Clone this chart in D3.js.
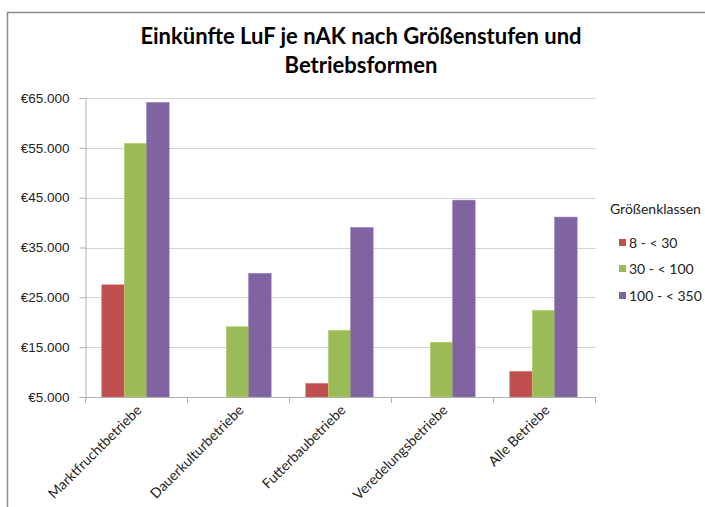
<!DOCTYPE html>
<html>
<head>
<meta charset="utf-8">
<script src="https://cdn.jsdelivr.net/npm/d3@7"></script>
<style>
  body { margin: 0; background: #fff; }
  svg { font-family: Lato, "Open Sans", sans-serif; }
</style>
</head>
<body>
<div id="chart"></div>
<script>
// Data
var categories = ['Marktfruchtbetriebe', 'Dauerkulturbetriebe', 'Futterbaubetriebe', 'Veredelungsbetriebe', 'Alle Betriebe']
var series = ['8 - < 30', '30 - < 100', '100 - < 350']
var colors = ['#C0504D', '#9BBB59', '#8064A2']
// null = no bar shown
var values = [
  [27500, null, 7700, null, 10100],
  [55900, 19100, 18400, 16000, 22400],
  [64100, 29800, 39000, 44500, 41100]
]
var yTicks = [5000, 15000, 25000, 35000, 45000, 55000, 65000]

var width = 705, height = 507
var svg = d3.select('#chart').append('svg').attr('width', width).attr('height', height)

// chart frame (cropped at right and bottom)
svg.append('path')
  .attr('d', 'M7.5,' + height + 'V12.5H' + width)
  .attr('fill', 'none').attr('stroke', '#8c8c8c').attr('stroke-width', 1.5)

// plot box ("top" is taken by window.top, so use m.*)
var m = {left: 85.5, right: 595.5, top: 98, bottom: 397}

var x = d3.scaleBand().domain(categories).range([m.left, m.right])
var x1 = d3.scaleBand().domain(series).range([x.bandwidth() * 0.16, x.bandwidth() * 0.82])
var y = d3.scaleLinear().domain([5000, 65000]).range([m.bottom, m.top])

var de = d3.formatLocale({decimal: ',', thousands: '.', grouping: [3], currency: ['€', '']})
var fmt = de.format('$,.0f')

// gridlines
svg.append('g').selectAll('line').data(yTicks.slice(1)).join('line')
  .attr('x1', m.left).attr('x2', m.right)
  .attr('y1', d => Math.round(y(d)) + 0.5).attr('y2', d => Math.round(y(d)) + 0.5)
  .attr('stroke', '#d4d4d4').attr('stroke-width', 1.2)

// y axis
var yAxis = svg.append('g').attr('transform', 'translate(' + m.left + ',0)')
  .call(d3.axisLeft(y).tickValues(yTicks).tickFormat(fmt).tickSize(6).tickPadding(10))
yAxis.select('.domain').attr('stroke', '#b0b0b0')
yAxis.selectAll('.tick line').attr('stroke', '#b0b0b0')
yAxis.selectAll('text').attr('font-size', 13.5).attr('fill', '#222')

// bars
var groups = svg.append('g').selectAll('g').data(categories).join('g')
  .attr('transform', d => 'translate(' + x(d) + ',0)')

groups.selectAll('rect')
  .data((d, i) => series.map((s, j) => ({s: s, j: j, v: values[j][i]})).filter(e => e.v != null))
  .join('rect')
  .attr('x', d => x1(d.s))
  .attr('width', x1.bandwidth())
  .attr('y', d => y(d.v))
  .attr('height', d => y(5000) - y(d.v))
  .attr('fill', d => colors[d.j])
  .attr('stroke', d => d3.color(colors[d.j]).brighter(0.4))
  .attr('stroke-width', 0.6)

// x axis with ticks between categories
var xb = svg.append('g')
xb.append('line').attr('x1', m.left).attr('x2', m.right).attr('y1', m.bottom + 0.5).attr('y2', m.bottom + 0.5)
  .attr('stroke', '#b0b0b0')
xb.selectAll('line.t').data(categories).join('line').attr('class', 't')
  .attr('x1', d => x(d) + x.bandwidth()).attr('x2', d => x(d) + x.bandwidth())
  .attr('y1', m.bottom).attr('y2', m.bottom + 6).attr('stroke', '#b0b0b0')
xb.append('line').attr('x1', m.left).attr('x2', m.left).attr('y1', m.bottom).attr('y2', m.bottom + 6).attr('stroke', '#b0b0b0')

xb.selectAll('text').data(categories).join('text')
  .attr('transform', d => 'translate(' + (x(d) + x.bandwidth() / 2 + 6) + ',' + (m.bottom + 14) + ') rotate(-45)')
  .attr('text-anchor', 'end')
  .attr('font-size', 14).attr('fill', '#222')
  .text(d => d)

// title
var title = svg.append('g').attr('font-weight', 'bold').attr('font-size', 22).attr('text-anchor', 'middle').attr('fill', '#000')
title.append('text').attr('x', 361).attr('y', 44).text('Einkünfte LuF je nAK nach Größenstufen und')
title.append('text').attr('x', 361).attr('y', 73).text('Betriebsformen')

// legend
var legend = svg.append('g').attr('font-size', 14).attr('fill', '#222')
legend.append('text').attr('x', 610).attr('y', 214).text('Größenklassen')
var li = legend.selectAll('g').data(series).join('g')
  .attr('transform', (d, i) => 'translate(619,' + [243, 269, 296][i] + ')')
li.append('rect').attr('x', 0).attr('y', -4).attr('width', 7).attr('height', 7).attr('fill', (d, i) => colors[i])
li.append('text').attr('x', 10).attr('y', 5).text(d => d)
</script>
</body>
</html>
